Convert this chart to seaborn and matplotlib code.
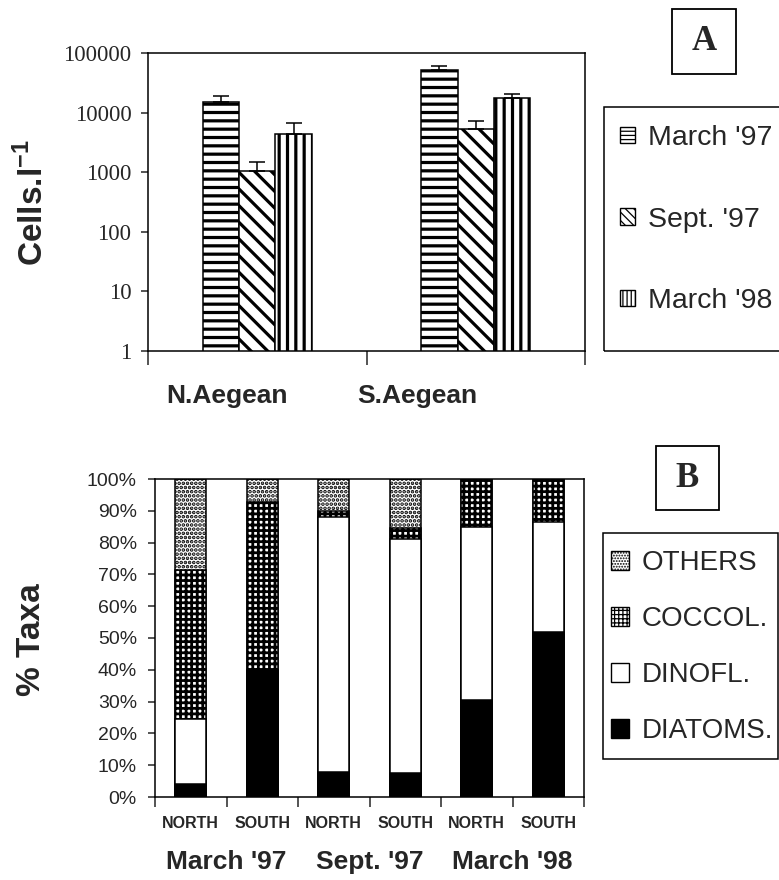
import numpy as np
import pandas as pd
import matplotlib
matplotlib.use("Agg")
import matplotlib.pyplot as plt
import matplotlib.transforms as mtransforms
from matplotlib.patches import Patch, Rectangle
from matplotlib.ticker import FixedLocator, FuncFormatter, NullLocator
import seaborn as sns

# ---- panel A data (cells per litre, mean + upper error) ----
regions = ["N.Aegean", "S.Aegean"]
periods = ["March '97", "Sept. '97", "March '98"]
cells_mar97 = [15200, 51900]
cells_sep97 = [1060, 5300]
cells_mar98 = [4370, 17600]
err_mar97 = [3800, 8600]
err_sep97 = [420, 1900]
err_mar98 = [2230, 3200]
y_ticks_a = [1, 10, 100, 1000, 10000, 100000]

# ---- panel B data (% of taxa) ----
sites = ["NORTH", "SOUTH", "NORTH", "SOUTH", "NORTH", "SOUTH"]
site_period = ["March '97", "March '97", "Sept. '97", "Sept. '97", "March '98", "March '98"]
diatoms = [4.0, 40.0, 8.0, 7.5, 30.5, 52.0]
dinofl = [20.5, 0.0, 80.0, 73.5, 54.5, 34.5]
coccol = [47.0, 52.7, 2.0, 3.5, 15.0, 13.5]
others = [28.5, 7.3, 10.0, 15.5, 0.0, 0.0]
taxa = ["OTHERS", "COCCOL.", "DINOFL.", "DIATOMS."]

W, H = 779, 880

sns.set_style("white")
plt.rcParams["font.family"] = ["Liberation Sans", "DejaVu Sans"]
plt.rcParams["mathtext.fontset"] = "custom"
plt.rcParams["mathtext.rm"] = "Liberation Sans"
plt.rcParams["mathtext.bf"] = "Liberation Sans:bold"
plt.rcParams["hatch.color"] = "black"


def set_hlw(patch, lw):
    # hatch line width per patch (mpl >= 3.10), else fall back to rc
    if hasattr(patch, "set_hatch_linewidth"):
        patch.set_hatch_linewidth(lw)
    else:
        plt.rcParams["hatch.linewidth"] = lw


def px_box(x0, y0, x1, y1):
    # figure-pixel box (top-left origin) -> figure fraction rect
    return [x0 / W, 1 - y1 / H, (x1 - x0) / W, (y1 - y0) / H]


def frame_box(x0, y0, x1, y1, lw=1.1):
    r = px_box(x0, y0, x1, y1)
    fig.add_artist(Rectangle(r[:2], r[2], r[3], transform=fig.transFigure,
                             fill=False, lw=lw, edgecolor="black"))


fig = plt.figure(figsize=(W / 100, H / 100), dpi=100)
axA = fig.add_axes(px_box(148, 53, 585, 351))
axB = fig.add_axes(px_box(155, 479, 584, 797))

# ================= panel A =================
dfA = pd.DataFrame({
    "region": regions * 3,
    "period": [periods[0]] * 2 + [periods[1]] * 2 + [periods[2]] * 2,
    "cells": cells_mar97 + cells_sep97 + cells_mar98,
    "err": err_mar97 + err_sep97 + err_mar98,
})
axA.set_yscale("log")
sns.barplot(data=dfA, x="region", y="cells", hue="period", order=regions,
            hue_order=periods, palette=["white"] * 3, width=0.5,
            edgecolor="black", linewidth=1.1, errorbar=None, legend=False, ax=axA)

hatches_a = ["--", "\\\\", "||"]
for cont, hatch, per in zip(axA.containers, hatches_a, periods):
    sub = dfA[dfA.period == per].set_index("region").loc[regions]
    xs, tops = [], []
    for p in cont.patches:
        p.set_hatch(hatch)
        set_hlw(p, 2.3)
        xs.append(p.get_x() + p.get_width() / 2)
        tops.append(p.get_height())
    axA.errorbar(xs, tops, yerr=[np.zeros(len(xs)), sub["err"].values],
                 fmt="none", ecolor="black", elinewidth=1.1, capsize=6,
                 capthick=1.1, zorder=3)

axA.set_ylim(1, 100000)
axA.set_xlim(-0.5, 1.5)
axA.yaxis.set_major_locator(FixedLocator(y_ticks_a))
axA.yaxis.set_minor_locator(NullLocator())
axA.yaxis.set_major_formatter(FuncFormatter(lambda v, _: f"{int(round(v))}"))
axA.xaxis.set_major_locator(FixedLocator([-0.5, 0.5, 1.5]))
axA.set_xticklabels([])
axA.tick_params(axis="y", direction="out", length=5, width=1.1, pad=7,
                labelsize=16.5, left=True)
axA.tick_params(axis="x", direction="out", length=10, width=1.1, bottom=True)
for lab in axA.get_yticklabels():
    lab.set_fontfamily("Liberation Serif")
axA.set_xlabel("")
axA.set_ylabel("")
for s in axA.spines.values():
    s.set_visible(True)
    s.set_color("black")
    s.set_linewidth(1.1)

# category labels
label_x = [227, 417]
for lx, reg in zip(label_x, regions):
    fig.text(lx / W, 1 - 396 / H, reg, ha="center", va="center",
             fontsize=19, fontweight="bold")
fig.text(33 / W, 1 - 203 / H, r"Cells.l$^{\mathbf{-1}}$", rotation=90,
         ha="center", va="center", fontsize=24, fontweight="bold")

# legend A (frame drawn separately so padding can differ)
hA = [Patch(facecolor="white", edgecolor="black", hatch=h * 4, lw=1.0)
      for h in ["-", "\\", "|"]]
legA = axA.legend(hA, periods, loc="upper left",
                  bbox_to_anchor=(620 / W, 1 - 125 / H),
                  bbox_transform=fig.transFigure, borderaxespad=0,
                  borderpad=0, fontsize=20.5, labelspacing=1.95,
                  handlelength=0.52, handleheight=0.52, handletextpad=0.45,
                  frameon=False)
for p in legA.get_patches():
    set_hlw(p, 0.9)
frame_box(604, 107, 800, 351)

# box A
frame_box(672, 9, 736, 74, lw=1.3)
fig.text(704 / W, 1 - 42 / H, "A", ha="center", va="center", fontsize=25,
         fontweight="bold", fontfamily="Liberation Serif")

# ================= panel B =================
keys = [f"{per} {s}" for per, s in zip(site_period, sites)]
dfB = pd.DataFrame({"key": keys, "diatoms": diatoms, "dinofl": dinofl,
                    "coccol": coccol, "others": others})
dfB["c_diat"] = dfB["diatoms"]
dfB["c_dino"] = dfB["c_diat"] + dfB["dinofl"]
dfB["c_cocc"] = dfB["c_dino"] + dfB["coccol"]
dfB["c_oth"] = dfB["c_cocc"] + dfB["others"]

layers = [("c_oth", "white", "....", 1.8),
          ("c_cocc", "white", "+++", 2.0),
          ("c_dino", "white", "", 1.0),
          ("c_diat", "black", "", 1.0)]
for col, fc, hatch, hlw in layers:
    n0 = len(axB.patches)
    sns.barplot(data=dfB, x="key", y=col, order=keys, color=fc, width=0.43,
                edgecolor="black", linewidth=1.1, errorbar=None, ax=axB)
    for p in axB.patches[n0:]:
        p.set_facecolor(fc)
        if hatch:
            p.set_hatch(hatch)
            set_hlw(p, hlw)

axB.set_ylim(0, 100)
axB.set_xlim(-0.5, 5.5)
axB.yaxis.set_major_locator(FixedLocator(np.arange(0, 101, 10)))
axB.yaxis.set_major_formatter(FuncFormatter(lambda v, _: f"{int(v)}%"))
axB.xaxis.set_major_locator(FixedLocator(np.arange(-0.5, 6, 1)))
axB.xaxis.set_major_formatter(FuncFormatter(lambda v, _: ""))
axB.xaxis.set_minor_locator(FixedLocator(np.arange(6)))
axB.xaxis.set_minor_formatter(FuncFormatter(lambda v, i: sites[int(round(v))]))
axB.tick_params(axis="y", direction="out", length=5, width=1.1, pad=8,
                labelsize=14, left=True)
axB.tick_params(axis="x", which="major", direction="out", length=7, width=1.1,
                bottom=True)
axB.tick_params(axis="x", which="minor", length=0, pad=14, labelsize=11.5)
for lab in axB.get_xticklabels(minor=True):
    lab.set_fontweight("bold")
axB.set_xlabel("")
axB.set_ylabel("")
for s in axB.spines.values():
    s.set_visible(True)
    s.set_color("black")
    s.set_linewidth(1.1)

# period labels under pairs
trans = mtransforms.blended_transform_factory(axB.transData, fig.transFigure)
for i, per in enumerate(periods):
    axB.text(2 * i + 0.5, 1 - 862 / H, per, transform=trans, ha="center",
             va="center", fontsize=19, fontweight="bold")
fig.text(32 / W, 1 - 640 / H, "% Taxa", rotation=90, ha="center",
         va="center", fontsize=24, fontweight="bold")

# legend B
hB = [Patch(facecolor="white", edgecolor="black", hatch="......", lw=1.0),
      Patch(facecolor="white", edgecolor="black", hatch="++++", lw=1.0),
      Patch(facecolor="white", edgecolor="black", lw=1.0),
      Patch(facecolor="black", edgecolor="black", lw=1.0)]
legB = axB.legend(hB, taxa, loc="upper left",
                  bbox_to_anchor=(611 / W, 1 - 550 / H),
                  bbox_transform=fig.transFigure, borderaxespad=0,
                  borderpad=0, fontsize=20, labelspacing=1.08,
                  handlelength=0.65, handleheight=0.65, handletextpad=0.45,
                  frameon=False)
for p in legB.get_patches():
    set_hlw(p, 0.9)
frame_box(603, 533, 778, 759)

# box B
frame_box(656, 446, 719, 510, lw=1.3)
fig.text(687.5 / W, 1 - 478 / H, "B", ha="center", va="center", fontsize=25,
         fontweight="bold", fontfamily="Liberation Serif")

fig.savefig("out.png", dpi=100)
